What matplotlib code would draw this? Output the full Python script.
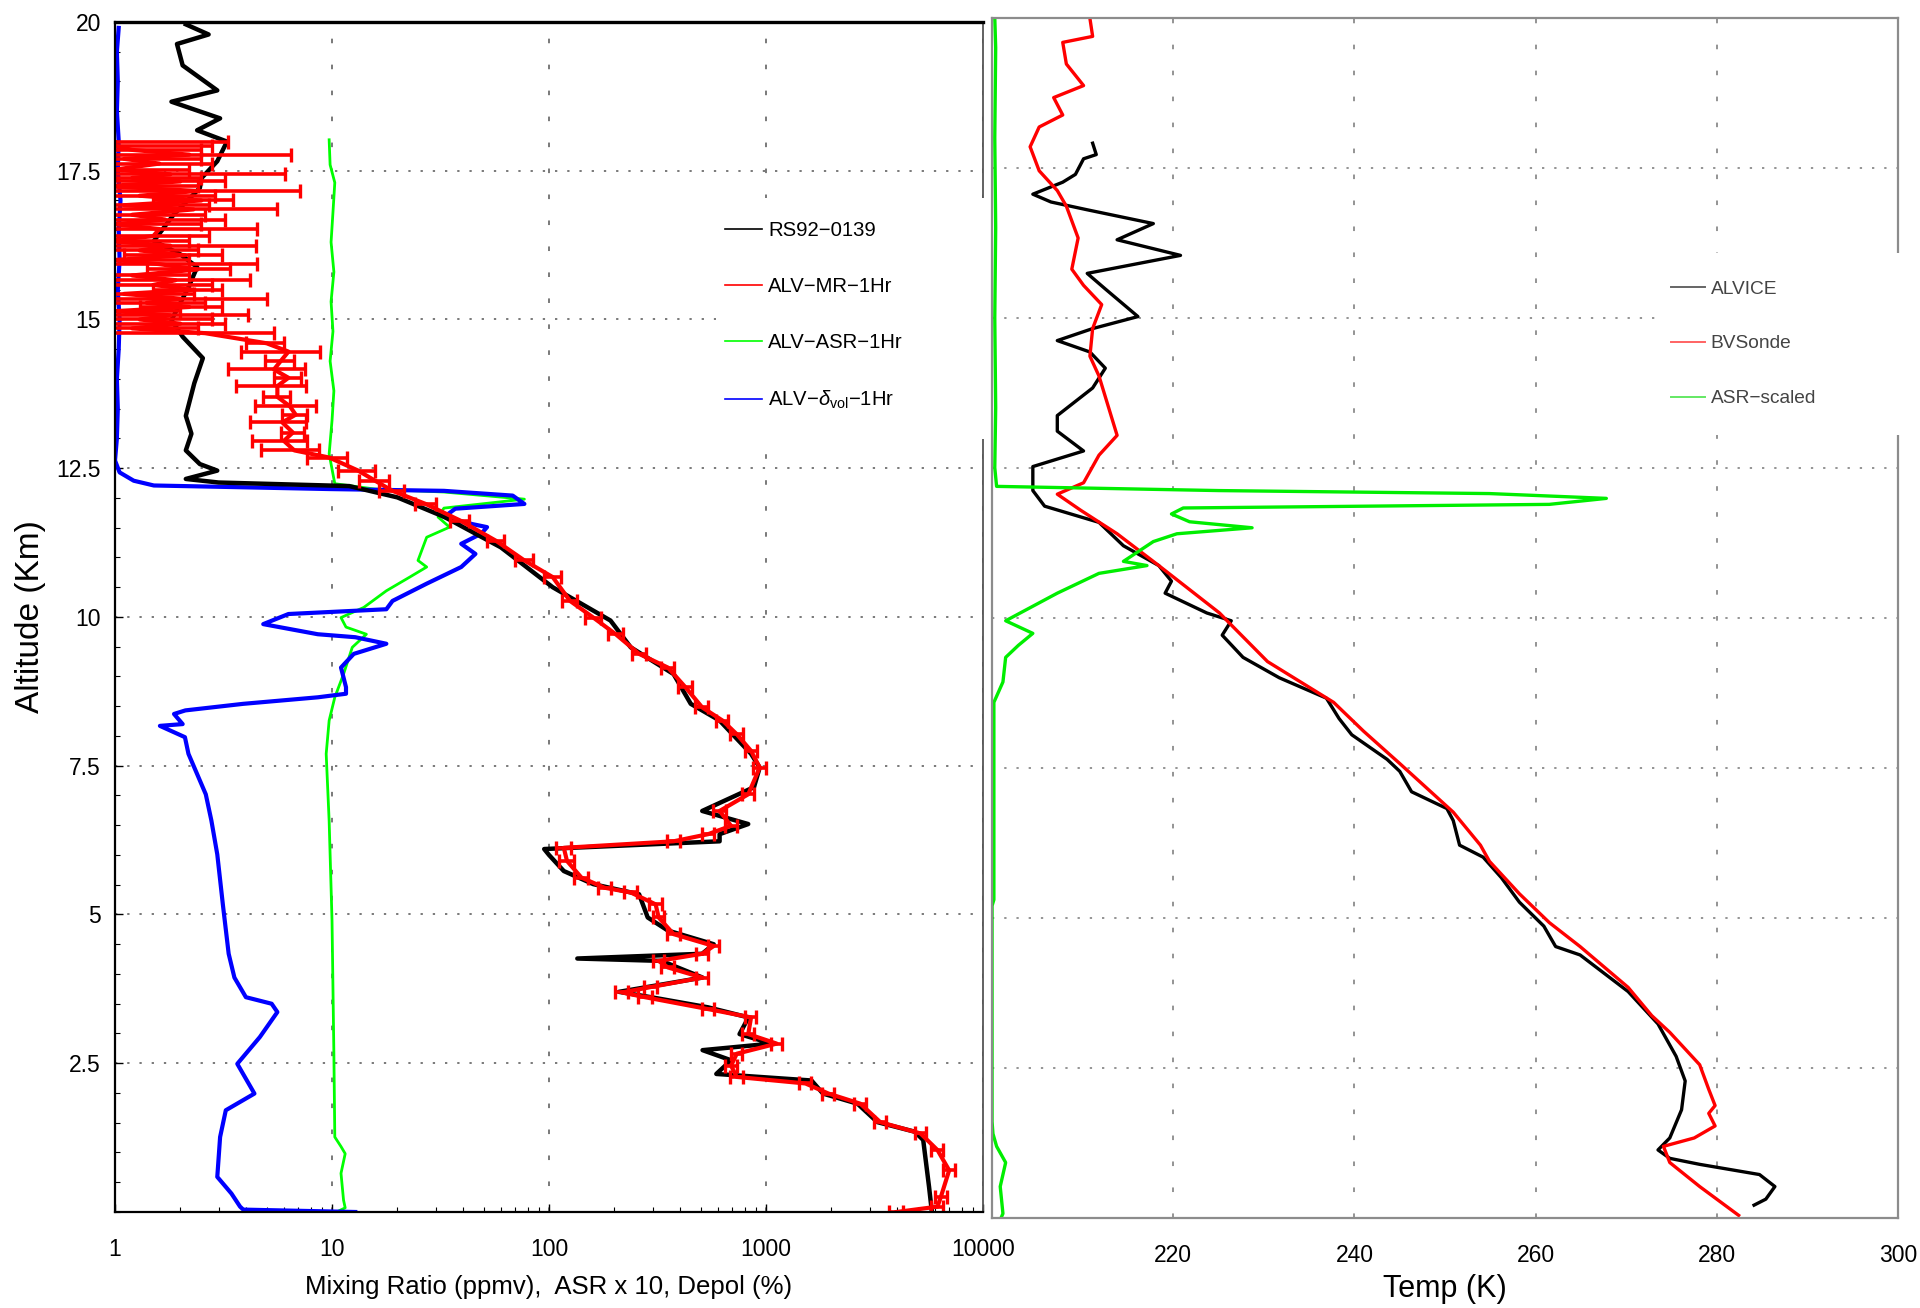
import matplotlib
matplotlib.use('Agg')
import matplotlib.pyplot as plt
from matplotlib.lines import Line2D
from matplotlib.patches import Rectangle
from matplotlib.ticker import LogLocator, MultipleLocator, NullFormatter

plt.rcParams['font.family'] = ['Liberation Sans', 'DejaVu Sans']
plt.rcParams['mathtext.fontset'] = 'custom'
plt.rcParams['mathtext.rm'] = 'Liberation Sans'
plt.rcParams['mathtext.it'] = 'Liberation Sans:italic'

# ---- left panel: water vapour mixing ratio, ASR x 10 and depolarisation vs altitude ----
# RS92-0139 radiosonde mixing ratio (ppmv)
sonde_alt = [0.03, 0.42, 1.21, 1.35, 1.51, 1.82, 1.99, 2.21, 2.32, 2.55, 2.72, 2.83, 2.99,
             3.27, 3.44, 3.61, 3.70, 3.94, 4.22, 4.26, 4.34, 4.50, 4.73, 4.95, 5.34, 5.51,
             5.73, 6.00, 6.10, 6.23, 6.35, 6.52, 6.74, 7.14, 7.47, 7.70, 8.26, 8.54, 9.04,
             9.49, 9.94, 10.50, 11.17, 11.68, 12.01, 12.20, 12.26, 12.32, 12.46, 12.57,
             12.80, 13.08, 13.38, 13.93, 14.35, 14.71, 14.99, 15.54, 15.88, 16.10, 16.32,
             16.77, 17.21, 17.38, 17.66, 17.99, 18.18, 18.38, 18.66, 18.85, 19.27, 19.63,
             19.79, 19.96]
sonde_mr = [5800, 5640, 5300, 4840, 3260, 2640, 1830, 1620, 590, 690, 510, 1060, 755,
            830, 540, 295, 210, 510, 330, 135, 508, 574, 353, 285, 260, 160,
            117, 100, 95, 611, 611, 828, 508, 880, 935, 853, 611, 450, 375,
            238, 192, 104, 60, 33, 20, 12, 3.0, 2.12, 2.96, 2.46,
            2.12, 2.25, 2.12, 2.32, 2.54, 2.05, 1.82, 2.18, 2.39, 1.99, 1.51,
            1.87, 2.46, 2.51, 2.96, 3.28, 2.39, 3.05, 1.82, 2.96, 2.05, 1.93,
            2.70, 2.12]

# ALV lidar mixing ratio, 1 hour average (ppmv) and its error
lidar_alt = [0.00, 0.09, 0.26, 0.70, 1.04, 1.32, 1.51, 1.82, 1.99, 2.16, 2.27, 2.46, 2.66,
             2.83, 2.99, 3.27, 3.41, 3.61, 3.69, 3.78, 3.94, 4.11, 4.22, 4.34, 4.47, 4.67,
             4.95, 5.17, 5.37, 5.45, 5.62, 5.90, 6.12, 6.23, 6.35, 6.49, 6.74, 7.02, 7.47,
             7.75, 8.03, 8.26, 8.48, 8.82, 9.15, 9.38, 9.71, 9.99, 10.27, 10.67, 10.95,
             11.28, 11.62, 11.90, 12.12, 12.29, 12.46, 12.68, 12.80, 12.96, 13.10, 13.27,
             13.40, 13.54, 13.70, 13.88, 14.02, 14.16, 14.30, 14.46, 14.60, 14.77, 14.85,
             14.93, 15.00, 15.07, 15.14, 15.21, 15.28, 15.35, 15.43, 15.50, 15.58, 15.66,
             15.74, 15.84, 15.93, 16.00, 16.08, 16.16, 16.24, 16.32, 16.40, 16.52, 16.60,
             16.68, 16.76, 16.85, 16.92, 17.00, 17.08, 17.16, 17.24, 17.32, 17.38, 17.44,
             17.52, 17.62, 17.70, 17.77, 17.85, 17.92, 17.98]
lidar_mr = [4000, 6170, 6400, 6980, 6170, 5150, 3360, 2720, 1940, 1520, 733, 690, 733,
            1120, 828, 853, 541, 277, 217, 294, 508, 353, 320, 508, 574, 375,
            320, 310, 238, 180, 141, 121, 117, 375, 541, 690, 611, 828, 935,
            853, 733, 630, 508, 425, 353, 260, 203, 160, 125, 104, 77,
            57, 39, 27, 19, 15.8, 13.2, 9.7, 6.7, 6.0, 6.6, 5.9,
            6.8, 6.4, 5.6, 5.6, 6.3, 5.4, 5.8, 6.3, 5.0, 2.6, 1.2,
            2.0, 1.3, 1.8, 1.0, 2.2, 1.4, 2.0, 1.1, 2.3, 1.5, 1.9,
            1.2, 2.4, 1.6, 1.0, 2.1, 1.3, 1.8, 0.9, 1.5, 1.6, 1.0,
            1.7, 1.2, 2.3, 1.1, 2.5, 1.3, 2.4, 0.9, 2.0, 1.2, 1.8,
            1.0, 1.6, 1.1, 2.2, 1.2, 1.0, 1.0]
lidar_err = [300, 400, 400, 450, 400, 300, 200, 170, 120, 100, 50, 45, 45,
             70, 50, 50, 35, 20, 15, 20, 30, 25, 20, 30, 35, 25,
             20, 20, 16, 12, 10, 10, 9, 25, 35, 45, 40, 50, 60,
             55, 50, 40, 35, 30, 25, 20, 16, 13, 10, 9, 7,
             5, 4, 3, 2.5, 2.5, 2.5, 2.0, 2.0, 1.7, 0.8, 1.7,
             0.9, 2.0, 0.8, 2.0, 0.9, 2.1, 0.9, 2.5, 1.0, 2.8, 1.2,
             1.2, 1.5, 2.3, 1.0, 0.9, 1.2, 3.0, 1.2, 0.8, 1.3, 2.3,
             1.0, 1.0, 2.9, 1.2, 1.0, 1.1, 2.65, 1.3, 1.2, 2.9, 1.5,
             1.5, 1.4, 3.3, 1.6, 1.0, 1.6, 4.75, 1.5, 1.2, 1.3, 4.3,
             1.2, 1.2, 1.4, 4.3, 1.3, 1.8, 2.3]

# ALV aerosol scattering ratio x 10
asr_alt = [0.00, 0.07, 0.20, 0.65, 0.98, 1.10, 1.26, 2.66, 4.90, 6.57, 7.70, 8.26, 8.65,
           9.04, 9.49, 9.71, 9.83, 9.99, 10.16, 10.44, 10.67, 10.84, 10.95, 11.34, 11.51,
           11.68, 11.83, 11.98, 12.10, 12.15, 12.24, 12.74, 13.30, 13.80, 14.30, 14.80,
           15.30, 15.80, 16.30, 16.80, 17.30, 17.60, 18.02]
asr_x10 = [10.5, 11.5, 11.3, 11.0, 11.5, 11.0, 10.3, 10.2, 10.0, 9.7, 9.4, 9.7, 10.3,
           11.3, 12.4, 14.4, 11.6, 11.0, 14.0, 17.8, 22.8, 27.3, 24.9, 27.3, 34.8,
           30.8, 32.8, 77, 32.8, 15.8, 10.3, 9.7, 10.0, 10.2, 9.8, 10.1,
           9.9, 10.2, 9.9, 10.1, 10.3, 9.8, 9.7]

# ALV volume depolarisation (%)
depol_alt = [0.00, 0.04, 0.09, 0.31, 0.59, 1.26, 1.71, 1.99, 2.49, 2.94, 3.36, 3.50, 3.61,
             3.94, 4.34, 5.17, 6.01, 6.58, 7.02, 7.36, 7.70, 7.98, 8.17, 8.20, 8.37, 8.43,
             8.54, 8.65, 8.71, 8.82, 9.15, 9.38, 9.55, 9.66, 9.71, 9.88, 10.05, 10.13,
             10.27, 10.56, 10.84, 11.06, 11.23, 11.40, 11.51, 11.56, 11.68, 11.82, 11.90,
             12.04, 12.12, 12.15, 12.18, 12.21, 12.29, 12.43, 12.63, 13.0, 13.5, 14.0,
             14.5, 15.0, 15.5, 16.0, 16.5, 17.0, 17.5, 18.0, 18.5, 19.0, 19.5, 19.9]
depol = [12.8, 3.9, 3.77, 3.44, 2.96, 3.05, 3.24, 4.39, 3.66, 4.65, 5.6, 5.27, 4.01,
         3.55, 3.34, 3.14, 2.96, 2.78, 2.62, 2.39, 2.18, 2.10, 1.61, 2.05, 1.87, 2.11,
         3.89, 8.6, 11.6, 11.6, 11.0, 12.6, 17.8, 12.8, 8.6, 4.82, 6.3, 17.8,
         19.0, 27.3, 39.4, 45.8, 39.4, 48.7, 51.8, 44.5, 32.8, 37.0, 77.0,
         68.0, 32.8, 9.7, 3.89, 1.51, 1.22, 1.05, 1.0, 1.02, 1.03, 1.02,
         1.04, 1.05, 1.03, 1.05, 1.04, 1.06, 1.03, 1.04, 1.02, 1.03, 1.02, 1.04]

# ---- right panel: temperature profiles (K) ----
alvice_alt = [0.21, 0.31, 0.52, 0.72, 0.89, 0.99, 1.13, 1.33, 1.80, 2.28, 2.69, 3.23, 3.77,
              4.38, 4.52, 4.86, 5.26, 5.67, 6.01, 6.21, 6.62, 6.82, 7.10, 7.44, 7.64, 8.05,
              8.32, 8.66, 9.00, 9.34, 9.71, 9.95, 10.08, 10.41, 10.61, 10.87, 11.20, 11.59,
              11.86, 12.12, 12.52, 12.78, 13.11, 13.37, 13.83, 14.16, 14.43, 14.62, 14.82,
              15.02, 15.48, 15.74, 16.04, 16.30, 16.57, 16.80, 16.93, 17.06, 17.26, 17.39,
              17.65, 17.72, 17.91]
alvice_t = [284.1, 285.4, 286.4, 284.7, 278.1, 274.8, 273.5, 274.8, 276.1, 276.5, 275.5,
            273.5, 270.2, 264.9, 262.2, 260.9, 258.2, 256.2, 254.2, 251.6, 250.9, 250.2,
            246.3, 245.0, 243.6, 239.7, 238.3, 236.9, 231.7, 227.7, 225.4, 226.4, 223.7,
            219.1, 219.8, 218.4, 214.5, 211.8, 205.8, 204.5, 204.5, 210.1, 207.2, 207.2,
            211.1, 212.5, 210.8, 207.2, 211.1, 216.1, 212.5, 210.5, 220.8, 213.8, 217.8,
            210.5, 206.5, 204.5, 207.8, 209.2, 210.1, 211.5, 211.1]

bvsonde_alt = [0.04, 0.52, 0.92, 1.19, 1.33, 1.53, 1.74, 1.87, 2.14, 2.55, 3.09, 3.37, 3.84,
               4.52, 4.92, 5.40, 5.94, 6.21, 6.76, 7.57, 8.11, 8.59, 9.27, 9.88, 10.08,
               10.87, 11.40, 11.79, 12.06, 12.25, 12.71, 13.04, 14.03, 14.36, 14.82, 15.22,
               15.54, 15.81, 16.33, 16.86, 17.12, 17.45, 17.85, 18.18, 18.38, 18.67, 18.87,
               19.23, 19.59, 19.69, 19.99]
bvsonde_t = [282.4, 278.1, 274.8, 274.1, 277.5, 279.8, 279.1, 279.8, 279.1, 278.1, 274.8,
             272.8, 270.2, 264.9, 261.5, 258.2, 254.9, 253.9, 250.9, 245.0, 241.0, 237.7,
             230.4, 226.4, 225.1, 218.4, 213.8, 209.8, 207.2, 210.1, 211.8, 213.8, 211.8,
             210.8, 211.1, 212.1, 210.1, 208.8, 209.5, 208.2, 207.2, 205.2, 204.2, 205.2,
             207.8, 206.8, 210.1, 208.2, 207.8, 211.1, 210.8]

asr_scaled_alt = [0.00, 0.07, 0.52, 0.92, 1.19, 1.40, 1.60, 5.20, 5.30, 8.59, 8.93, 9.34,
                  9.54, 9.74, 9.95, 10.41, 10.74, 10.87, 10.94, 11.00, 11.27, 11.40, 11.50,
                  11.60, 11.73, 11.83, 11.89, 11.99, 12.07, 12.12, 12.19, 12.50, 13.50,
                  15.00, 16.50, 18.00, 19.50, 20.00]
asr_scaled = [201.0, 201.2, 200.9, 201.5, 200.5, 200.1, 200.0, 200.0, 200.2, 200.2, 201.2,
              201.5, 202.9, 204.5, 201.5, 207.2, 211.8, 217.1, 214.5, 215.1, 217.8, 220.4,
              228.7, 221.8, 219.8, 221.1, 261.5, 267.8, 254.9, 225.0, 200.5, 200.3, 200.4,
              200.3, 200.4, 200.3, 200.4, 200.3]

mr_ticks = [1, 10, 100, 1000, 10000]
mr_ticklabels = ['1', '10', '100', '1000', '10000']
alt_ticks = [2.5, 5, 7.5, 10, 12.5, 15, 17.5, 20]
alt_ticklabels = ['2.5', '5', '7.5', '10', '12.5', '15', '17.5', '20']
temp_ticks = [200, 220, 240, 260, 280, 300]
temp_ticklabels = ['', '220', '240', '260', '280', '300']

left_labels = ['RS92\u22120139', 'ALV\u2212MR\u22121Hr', 'ALV\u2212ASR\u22121Hr',
               'ALV\u2212$\\delta_{\\rm vol}$\u22121Hr']
right_labels = ['ALVICE', 'BVSonde', 'ASR\u2212scaled']

fig = plt.figure(figsize=(19.2, 13.08), dpi=100)
ax1 = fig.add_axes([0.0599, 0.0734, 0.4521, 0.9098])
ax2 = fig.add_axes([0.5167, 0.0690, 0.4719, 0.9174])

# left panel
ax1.plot(asr_x10, asr_alt, color='#00ff00', lw=2.0, zorder=2)
ax1.plot(depol, depol_alt, color='#0000ff', lw=3.0, zorder=2.1)
ax1.plot(sonde_mr, sonde_alt, color='black', lw=3.2, zorder=2.2)
ax1.errorbar(lidar_mr, lidar_alt, xerr=lidar_err, color='#ff0000', lw=3.0,
             elinewidth=2.6, capsize=5, capthick=2.4, zorder=2.3)

ax1.set_xscale('log')
ax1.set_xlim(1, 10000)
ax1.set_ylim(0, 20)
ax1.set_xticks(mr_ticks)
ax1.set_xticklabels(mr_ticklabels)
ax1.xaxis.set_minor_locator(LogLocator(base=10, subs=range(2, 10), numticks=20))
ax1.xaxis.set_minor_formatter(NullFormatter())
ax1.set_yticks(alt_ticks)
ax1.set_yticklabels(alt_ticklabels)
ax1.yaxis.set_minor_locator(MultipleLocator(0.5))
ax1.tick_params(which='both', direction='in', top=False, right=False, labelsize=16.5)
ax1.tick_params(which='major', length=6, width=1.0)
ax1.tick_params(which='minor', length=3.5, width=0.8)
ax1.tick_params(axis='x', pad=18.5)
ax1.tick_params(axis='y', pad=10)
ax1.set_axisbelow(True)
ax1.xaxis.grid(True, linestyle=(0, (3, 14)), color='#555555', lw=1.1)
ax1.yaxis.grid(True, linestyle=(0, (1.5, 6.5)), color='#555555', lw=1.1)
for side in ['left', 'bottom']:
    ax1.spines[side].set_linewidth(1.6)
    ax1.spines[side].set_color('black')
ax1.spines['top'].set_linewidth(2.4)
ax1.spines['right'].set_color('#555555')
ax1.spines['right'].set_linewidth(1.3)
ax1.set_xlabel('Mixing Ratio (ppmv),  ASR x 10, Depol (%)', fontsize=18.5, labelpad=10)
ax1.set_ylabel('Altitude (Km)', fontsize=24, labelpad=8)

# white legend box hides the spine behind it
ax1.add_patch(Rectangle((0.692, 0.6495), 0.315, 0.2025, transform=ax1.transAxes,
                        facecolor='white', edgecolor='none', zorder=4, clip_on=False))
left_handles = [Line2D([], [], color=c, lw=1.2) for c in ['black', '#ff0000', '#00ff00', '#0000ff']]
ax1.legend(left_handles, left_labels, loc='upper left', bbox_to_anchor=(0.703, 0.8325),
           frameon=False, fontsize=14.6, handlelength=1.82, handletextpad=0.3,
           labelspacing=1.82, borderpad=0, borderaxespad=0)

# right panel
ax2.plot(alvice_t, alvice_alt, color='black', lw=2.4, zorder=2)
ax2.plot(bvsonde_t, bvsonde_alt, color='#ff0000', lw=2.4, zorder=2.1)
ax2.plot(asr_scaled, asr_scaled_alt, color='#00ee00', lw=2.4, zorder=2.2)
ax2.set_xlim(200, 300)
ax2.set_ylim(0, 20)
ax2.set_xticks(temp_ticks)
ax2.set_xticklabels(temp_ticklabels)
ax2.set_yticks(alt_ticks)
ax2.set_yticklabels([])
ax2.tick_params(length=0, labelsize=16.5, pad=19)
ax2.set_axisbelow(True)
ax2.xaxis.grid(True, linestyle=(0, (3, 14)), color='#777777', lw=1.1)
ax2.yaxis.grid(True, linestyle=(0, (1.5, 6.5)), color='#777777', lw=1.1)
for side in ax2.spines:
    ax2.spines[side].set_color('#8c8c8c')
    ax2.spines[side].set_linewidth(1.6)
ax2.set_xlabel('Temp (K)', fontsize=22, labelpad=5)

ax2.add_patch(Rectangle((0.738, 0.652), 0.27, 0.152, transform=ax2.transAxes,
                        facecolor='white', edgecolor='none', zorder=4, clip_on=False))
right_handles = [Line2D([], [], color=c, lw=1.4, alpha=0.75) for c in ['#333333', '#ff3030', '#30e030']]
leg2 = ax2.legend(right_handles, right_labels, loc='upper left', bbox_to_anchor=(0.749, 0.7814),
                  frameon=False, fontsize=13.8, handlelength=1.77, handletextpad=0.31,
                  labelspacing=1.96, borderpad=0, borderaxespad=0)
for t in leg2.get_texts():
    t.set_color('#444444')

fig.savefig('out.png', dpi=100)
